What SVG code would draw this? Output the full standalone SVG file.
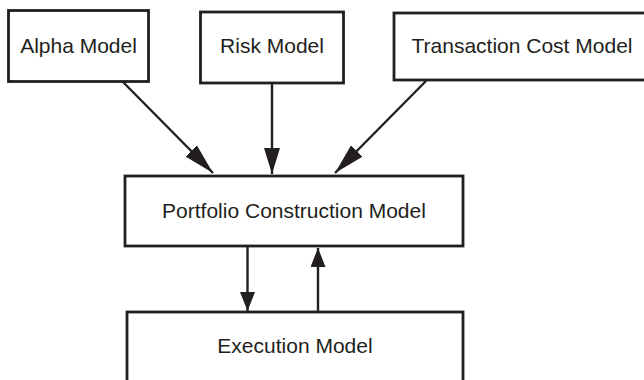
<svg xmlns="http://www.w3.org/2000/svg" width="644" height="380" viewBox="0 0 644 380">
<style>
.box{fill:#fff;stroke:#231f20;stroke-width:2.8}
.lbl{font-family:"Liberation Sans",Arial,sans-serif;font-size:21px;fill:#231f20;text-anchor:middle}
.con{stroke:#231f20;stroke-width:2.4;fill:none}
.ah{fill:#231f20}
</style>
<defs>
<marker id="ahL" markerUnits="userSpaceOnUse" markerWidth="33" markerHeight="17" refX="31" refY="8" orient="auto">
<path class="ah" d="M0,0 L31,8 L0,16 z"/>
</marker>
<marker id="ahM" markerUnits="userSpaceOnUse" markerWidth="28" markerHeight="17" refX="26" refY="8" orient="auto">
<path class="ah" d="M0,0 L26,8 L0,16 z"/>
</marker>
<marker id="ahS" markerUnits="userSpaceOnUse" markerWidth="21" markerHeight="16" refX="19" refY="7.5" orient="auto">
<path class="ah" d="M0,0 L19,7.5 L0,15 z"/>
</marker>
</defs>
<rect width="644" height="380" fill="#fff"/>
<g id="alpha"><rect class="box" x="8.5" y="10.5" width="140" height="71"/><text class="lbl" x="78.5" y="53">Alpha Model</text></g>
<g id="risk"><rect class="box" x="200.5" y="12" width="143" height="71"/><text class="lbl" x="272" y="53">Risk Model</text></g>
<g id="tcost"><rect class="box" x="394" y="13" width="270" height="67"/><text class="lbl" x="522" y="53">Transaction Cost Model</text></g>
<g id="portfolio"><rect class="box" x="125" y="176" width="338" height="70"/><text class="lbl" x="294" y="218">Portfolio Construction Model</text></g>
<g id="execution"><rect class="box" x="127" y="312" width="336" height="100"/><text class="lbl" x="295" y="353">Execution Model</text></g>
<g id="connectors">
<line class="con" x1="123" y1="82" x2="213" y2="173" marker-end="url(#ahL)"/>
<line class="con" x1="272" y1="84" x2="272" y2="174" marker-end="url(#ahM)"/>
<line class="con" x1="426" y1="81" x2="335" y2="173" marker-end="url(#ahL)"/>
<line class="con" x1="247.5" y1="247" x2="247.5" y2="311" marker-end="url(#ahS)"/>
<line class="con" x1="318" y1="311" x2="318" y2="248" marker-end="url(#ahS)"/>
</g>
</svg>
